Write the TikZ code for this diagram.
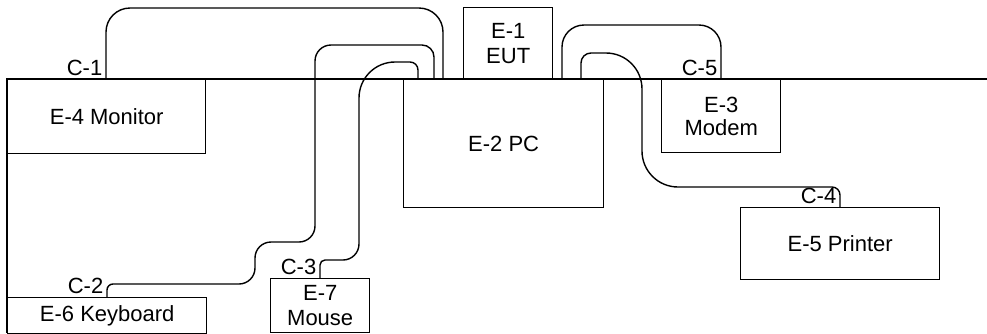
\documentclass[tikz,border=0pt]{standalone}
\usepackage{fontspec}
\setmainfont{Liberation Sans}

\begin{document}
\begin{tikzpicture}[x=0.5pt, y=-0.5pt, line width=0.7pt,
      box/.style={draw, rectangle, anchor=north west, inner sep=0pt, align=center,
        font=\fontsize{11}{12.5}\selectfont},
      lbl/.style={anchor=south east, inner sep=1.5pt, font=\fontsize{11}{12.5}\selectfont}
      ]
      \useasboundingbox (0,0) rectangle (987,333);
      \draw (987,79) -- (7,79) -- (7,333);
      \node[box, minimum width=99pt, minimum height=37pt] (mon) at (7,79) {E-4 Monitor};
      \node[box, minimum width=100pt, minimum height=64pt] (pc) at (403,79) {E-2 PC};
      \node[box, minimum width=44.5pt, minimum height=36pt] (eut) at (463,7) {E-1\\EUT};
      \node[box, minimum width=59.5pt, minimum height=36.5pt,
        font=\fontsize{11}{11.3}\selectfont] (modem) at (661,79) {E-3\\Modem};
      \node[box, minimum width=99.5pt, minimum height=36pt] (printer) at (740,207) {E-5 Printer};
      \node[box, minimum width=99.5pt, minimum height=18pt] (kbd) at (7,297) {E-6 Keyboard};
      \node[box, minimum width=49.5pt, minimum height=27pt] (mouse) at (270,278) {E-7\\Mouse};
      \draw[rounded corners=12pt] (mon.north -| 106,0) -- (106,8) -- (443,8) -- (pc.north -| 443,0);
      \draw (kbd.north -| 107,0) [rounded corners=3pt] -- (107,284) [rounded corners=8pt] -- (255,284)
        -- (255,242) -- (315,242) -- (315,45) [rounded corners=6pt] -- (434,45) -- (pc.north -| 434,0);
      \draw (mouse.north -| 320,0) [rounded corners=2.5pt] -- (320,260) [rounded corners=8pt] -- (359,260)
        [rounded corners=18pt] -- (359,62) [rounded corners=4pt] -- (418,62) -- (pc.north -| 418,0);
      \draw (pc.north -| 581,0) [rounded corners=5pt] -- (581,53) [rounded corners=18pt] -- (642,53)
        -- (642,187) [rounded corners=4pt] -- (840,187) -- (printer.north -| 840,0);
      \draw[rounded corners=11pt] (pc.north -| 562,0) -- (562,25) -- (721,25) -- (modem.north -| 721,0);
      \node[lbl] (c1) at (mon.north -| 106,0) {C-1};
      \node[lbl] (c2) at (kbd.north -| 107,0) {C-2};
      \node[lbl] (c3) at (mouse.north -| 320,0) {C-3};
      \node[lbl] (c4) at (printer.north -| 840,0) {C-4};
      \node[lbl] (c5) at (modem.north -| 721,0) {C-5};
    \end{tikzpicture}
\end{document}
